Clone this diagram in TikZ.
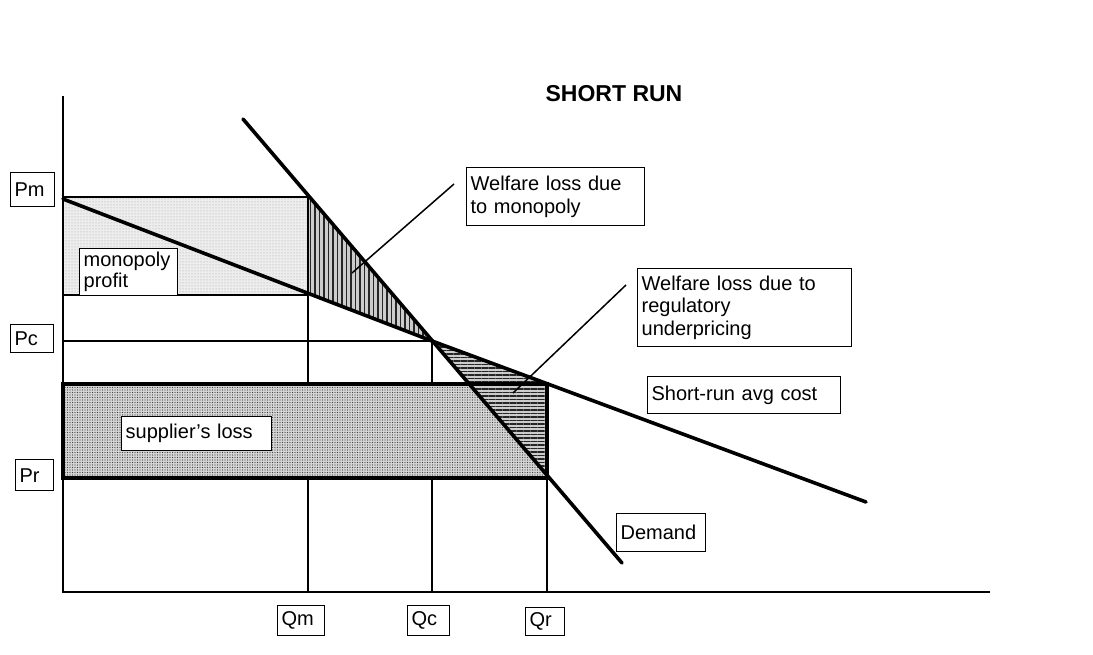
\documentclass[tikz,border=0pt]{standalone}
\usepackage{fontspec}
\setmainfont{Liberation Sans}
\usetikzlibrary{patterns,patterns.meta}
\begin{document}
\begin{tikzpicture}[x=1pt,y=-1pt,
  thin line/.style={line width=1.5pt},
  thick line/.style={line width=3.6pt, line cap=round},
  lbl/.style={draw, fill=white, line width=1.3pt, inner xsep=4pt, inner ysep=1pt,
     font=\fontsize{20}{22.5}\selectfont, align=left, anchor=north west},
]
\useasboundingbox (0,0) rectangle (1093,655);
% key points
\coordinate (O) at (63,592);
\coordinate (Ytop) at (63,96);
\coordinate (Xend) at (990,592);
\coordinate (PmY) at (63,197);
\coordinate (ACstart) at (63,199);
\coordinate (C) at (432,341);
\coordinate (ACend) at (866,502);
\coordinate (Dstart) at (243,119);
\coordinate (Dend) at (622,563);
\coordinate (QmTop) at (308,197);
\coordinate (QmAC) at (308,295);
\coordinate (QrAC) at (547,384);
\coordinate (QrD) at (547,477);
\coordinate (PrL) at (63,478);
\coordinate (PrR) at (547,478);
\coordinate (TopL) at (63,384);
\coordinate (PcY) at (63,341);
\coordinate (ProfL) at (63,295);
\coordinate (Qm) at (308,592);
\coordinate (Qc) at (432,592);
\coordinate (Qr) at (547,592);
\coordinate (DTop) at (468,384);

% guide lines
\draw[thin line] (PmY) -- (QmTop);
\draw[thin line] (ProfL) -- (QmAC);
\draw[thin line] (PcY) -- (C);
\draw[thin line] (QmTop) -- (Qm);
\draw[thin line] (C) -- (Qc);
\draw[thin line] (QrAC) -- (Qr);

% monopoly profit area
\fill[gray!14] (PmY) rectangle (QmAC);
\fill[pattern={Dots[distance=3pt,radius=0.5pt]}, pattern color=gray!75] (PmY) rectangle (QmAC);
% supplier's loss area
\fill[gray!32] (TopL) rectangle (PrR);
\fill[pattern={Dots[distance=2.5pt,radius=0.65pt]}, pattern color=black!75] (TopL) -- (DTop) -- (QrD) -- (PrR) -- (PrL) -- cycle;
% welfare loss due to monopoly (vertical hatch)
\fill[gray!40] (QmTop) -- (QmAC) -- (C) -- cycle;
\fill[pattern={Lines[angle=90,distance=4.5pt,line width=1.4pt]}, pattern color=black!85] (QmTop) -- (QmAC) -- (C) -- cycle;
% welfare loss due to regulatory underpricing (horizontal hatch)
\fill[gray!40] (C) -- (QrAC) -- (QrD) -- cycle;
\fill[pattern={Lines[angle=0,distance=3.5pt,line width=1.2pt]}, pattern color=black!85] (C) -- (QrAC) -- (QrD) -- cycle;

% redraw edges over the fills
\draw[thin line] (QmTop) -- (QmAC);
\draw[thin line] (PmY) -- (QmTop);
\draw[thin line] (ProfL) -- (QmAC);
% axes
\draw[thin line] (Ytop) -- (O) -- (Xend);
% supplier's loss rectangle
\draw[line width=3.6pt] (TopL) rectangle (PrR);
% curves
\draw[thick line] (ACstart) -- (C) -- (ACend);
\draw[thick line] (Dstart) -- (Dend);

% labels
\node[font=\fontsize{23}{25}\selectfont\bfseries] (title) at (614,94) {SHORT RUN};
\node[lbl, text width=36pt, minimum height=34pt] (pm) at (10,172) {Pm};
\node[lbl, text width=35pt, minimum height=28pt] (pc) at (10,324) {Pc};
\node[lbl, text width=30pt, minimum height=31pt] (pr) at (15,459) {Pr};
\node[lbl, text width=90pt, minimum height=47pt, inner ysep=0pt, font=\fontsize{20}{21}\selectfont] (mp) at (79,248) {monopoly\\profit};
\node[lbl, text width=142pt, minimum height=34pt] (sl) at (121,416) {supplier's loss};
\node[lbl, text width=170pt, minimum height=58pt] (wm) at (466,167) {Welfare loss due\\to monopoly};
\node[lbl, text width=206pt, minimum height=78pt] (wr) at (637,268) {Welfare loss due to\\regulatory\\underpricing};
\node[lbl, text width=185pt, minimum height=37pt] (sr) at (647,376) {Short-run avg cost};
\node[lbl, text width=81pt, minimum height=38pt] (dm) at (616,513) {Demand};
\node[lbl, text width=39pt, minimum height=30pt] (qm) at (277,605) {Qm};
\node[lbl, text width=34pt, minimum height=30pt] (qc) at (407,605) {Qc};
\node[lbl, text width=31pt, minimum height=28pt] (qr) at (525,607) {Qr};

% leader lines
\coordinate (wmTip) at (352,273);
\coordinate (wrTip) at (513,393);
\draw[thin line] (454,184) -- (wmTip);
\draw[thin line] (626,285) -- (wrTip);
\end{tikzpicture}
\end{document}
